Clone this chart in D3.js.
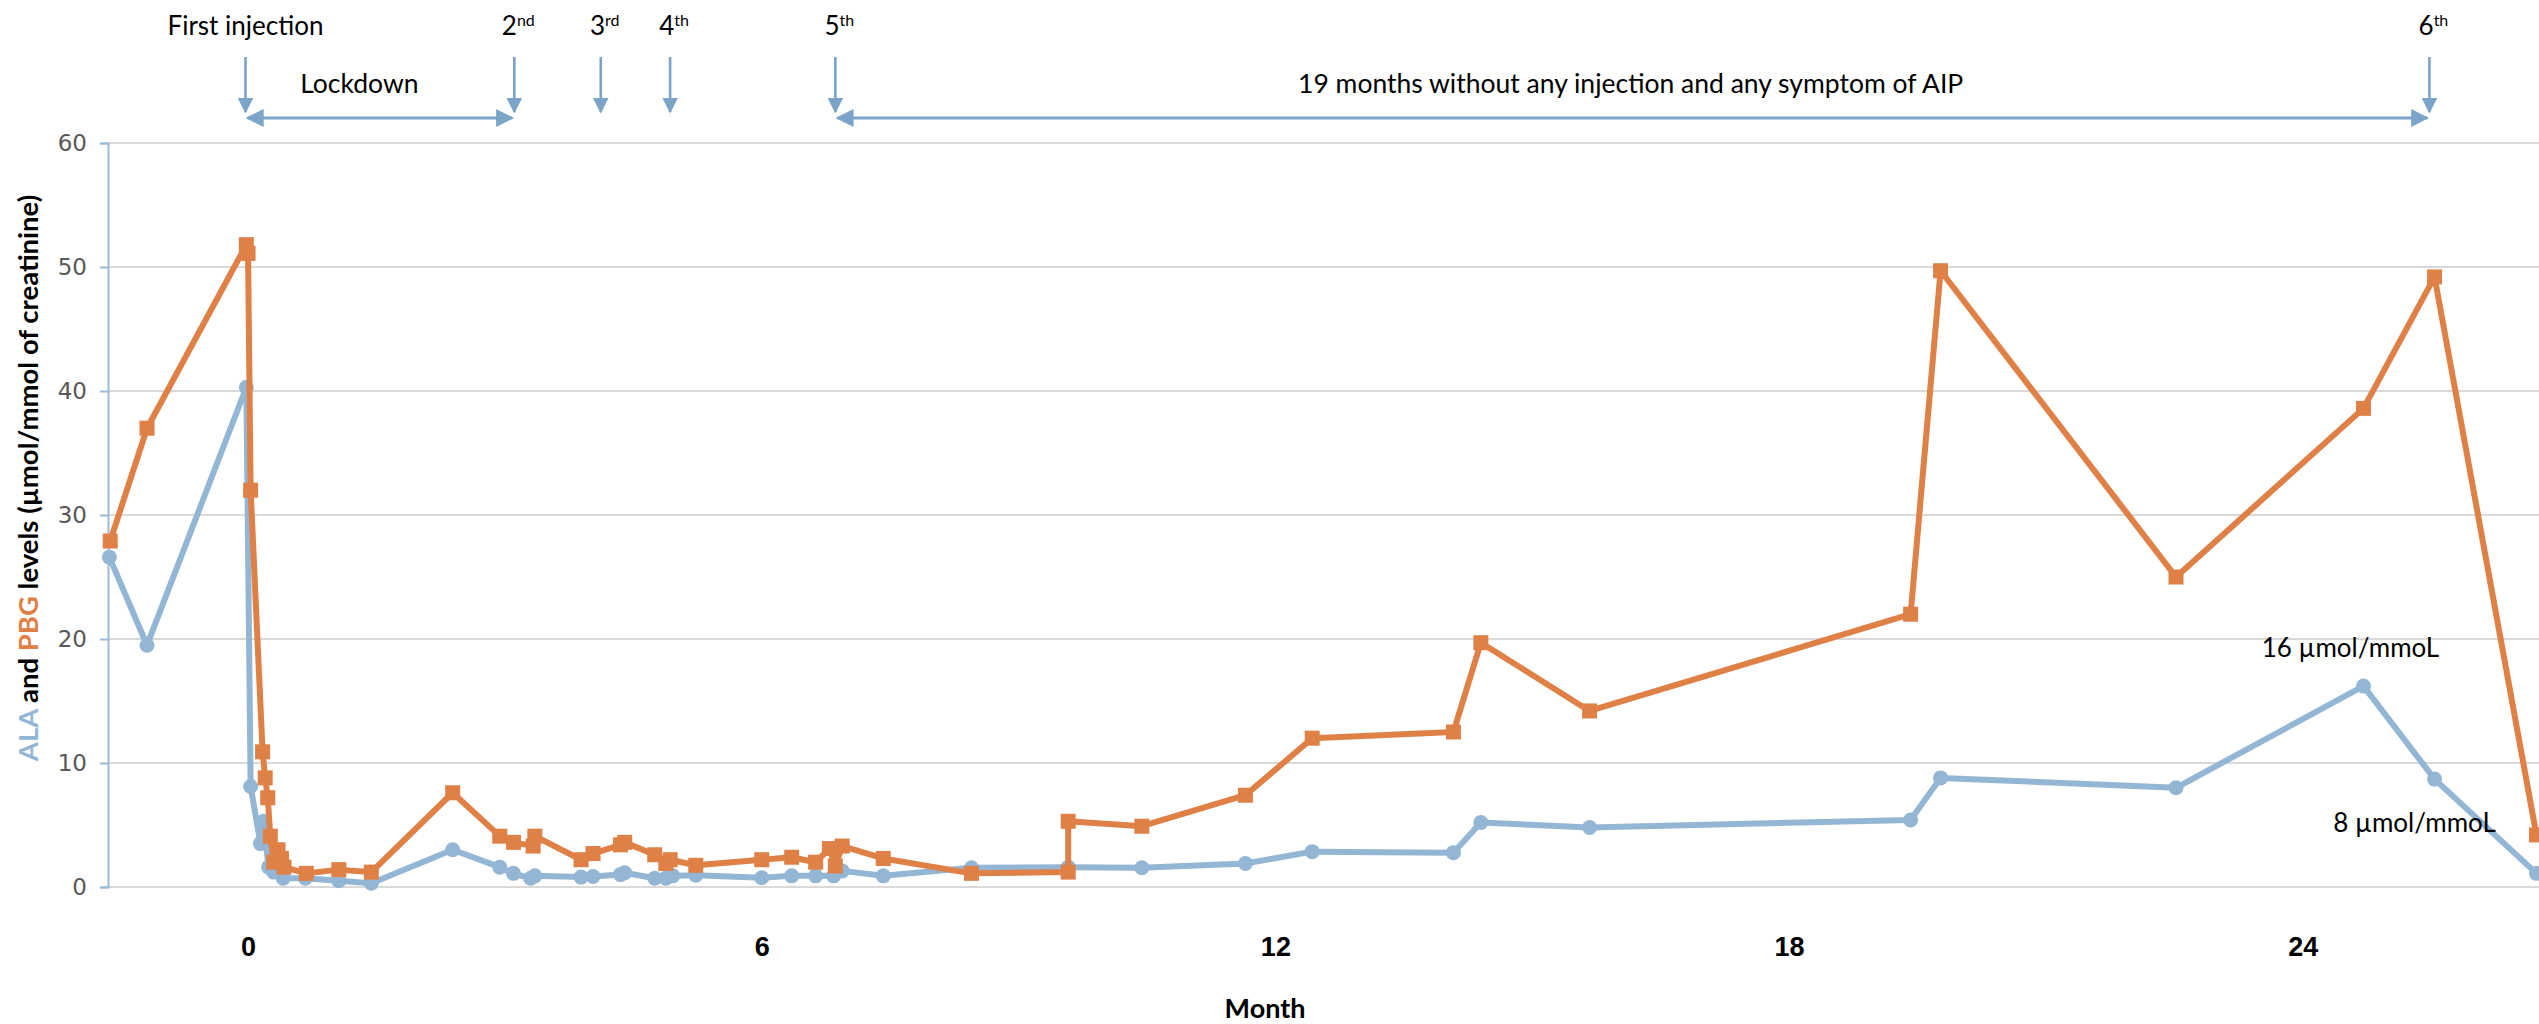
<!DOCTYPE html>
<html>
<head>
<meta charset="utf-8">
<script src="https://cdn.jsdelivr.net/npm/d3@7"></script>
<style>
  body { margin: 0; background: #fff; }
  svg { display: block; font-family: Lato, "Open Sans", sans-serif; }
</style>
</head>
<body>
<div id="chart"></div>
<script>
// ALA (blue circles)
const alaMonths = [-1.62, -1.18, -0.02, 0.03, 0.145, 0.18, 0.24, 0.3, 0.41, 0.67, 1.06, 1.44,
  2.39, 2.94, 3.10, 3.30, 3.35, 3.89, 4.03, 4.35, 4.40, 4.75, 4.88, 4.96, 5.23,
  6.0, 6.35, 6.63, 6.84, 6.94, 7.42, 8.45, 9.58, 10.44, 11.65, 12.43, 14.08, 14.40,
  15.67, 19.42, 19.77, 22.52, 24.71, 25.54, 26.73]
const alaValues = [26.6, 19.5, 40.3, 8.1, 3.5, 5.3, 1.6, 1.2, 0.7, 0.7, 0.5, 0.3,
  3.0, 1.6, 1.1, 0.7, 0.9, 0.8, 0.85, 1.0, 1.15, 0.7, 0.7, 0.9, 0.95,
  0.75, 0.9, 0.9, 0.9, 1.3, 0.9, 1.55, 1.6, 1.55, 1.9, 2.85, 2.77, 5.2,
  4.8, 5.4, 8.8, 8.0, 16.2, 8.7, 1.1]

// PBG (orange squares)
const pbgMonths = [-1.61, -1.18, -0.02, 0.0, 0.03, 0.17, 0.2, 0.23, 0.26, 0.3, 0.35, 0.39, 0.42,
  0.68, 1.06, 1.44, 2.39, 2.94, 3.10, 3.33, 3.35, 3.89, 4.03, 4.35, 4.40, 4.75, 4.88, 4.93,
  5.23, 6.0, 6.35, 6.63, 6.79, 6.86, 6.94, 7.42, 8.45, 9.58, 9.58, 10.44, 11.65, 12.43,
  14.08, 14.40, 15.67, 19.42, 19.77, 22.52, 24.71, 25.54, 26.73]
const pbgValues = [27.9, 37.0, 51.8, 51.1, 32.0, 10.9, 8.8, 7.2, 4.1, 2.0, 3.0, 2.3, 1.6,
  1.1, 1.4, 1.2, 7.6, 4.1, 3.6, 3.3, 4.1, 2.2, 2.7, 3.4, 3.6, 2.6, 1.9, 2.2,
  1.75, 2.2, 2.4, 2.0, 3.1, 1.7, 3.3, 2.3, 1.1, 1.2, 5.3, 4.9, 7.4, 12.0,
  12.5, 19.7, 14.2, 22.0, 49.7, 25.0, 38.6, 49.2, 4.2]

const yTicks = [0, 10, 20, 30, 40, 50, 60]
const xTickMonths = [0, 6, 12, 18, 24]

// injections shown by arrows at the top
const injectionMonths = [-0.03, 3.11, 4.12, 4.93, 6.86, 25.48]
const injectionLabels = [["First injection", ""], ["2", "nd"], ["3", "rd"], ["4", "th"], ["5", "th"], ["6", "th"]]
const periods = [
  { from: 0, to: 1, text: "Lockdown", textMonth: 1.3 },
  { from: 4, to: 5, text: "19 months without any injection and any symptom of AIP", textMonth: 16.15 }
]
const levelNotes = [
  { month: 24.71, value: 16.2, text: "16 µmol/mmoL", dx: -13, dy: -29 },
  { month: 25.54, value: 8.7, text: "8 µmol/mmoL", dx: -20, dy: 53 }
]

const blue = "#94b6d5"
const orange = "#df8046"
const arrowBlue = "#7ca4c9"

const dimensions = {
  width: 2539,
  height: 1024,
  left: 108,
  top: 143,
  bottom: 887
}

const svg = d3.select("#chart").append("svg")
  .attr("width", dimensions.width)
  .attr("height", dimensions.height)

const xScale = d3.scaleLinear()
  .domain([-1.636, 26.76])
  .range([dimensions.left, dimensions.width])

const yScale = d3.scaleLinear()
  .domain([0, 60])
  .range([dimensions.bottom, dimensions.top])

// gridlines
svg.append("g")
  .selectAll("line")
  .data(yTicks)
  .join("line")
    .attr("x1", dimensions.left)
    .attr("x2", dimensions.width)
    .attr("y1", d => yScale(d))
    .attr("y2", d => yScale(d))
    .attr("stroke", "#d9d9d9")
    .attr("stroke-width", 2)

// y axis
const yAxis = svg.append("g")
  .attr("transform", `translate(${dimensions.left},0)`)
  .call(d3.axisLeft(yScale).tickValues(yTicks).tickSize(8).tickPadding(13))
yAxis.select(".domain").attr("stroke", "#9dbbd8").attr("stroke-width", 2)
yAxis.selectAll(".tick line").attr("stroke", "#9dbbd8").attr("stroke-width", 2)
yAxis.selectAll(".tick text")
  .attr("fill", "#595959")
  .style("font-size", "23px")
  .style("font-family", "'DejaVu Sans', sans-serif")

// y axis title
const yTitle = svg.append("text")
  .attr("transform", `translate(38, 478) rotate(-90)`)
  .attr("text-anchor", "middle")
  .style("font-size", "27.5px")
  .style("font-weight", "bold")
yTitle.append("tspan").attr("fill", blue).text("ALA")
yTitle.append("tspan").attr("fill", "#000").text(" and ")
yTitle.append("tspan").attr("fill", orange).text("PBG")
yTitle.append("tspan").attr("fill", "#000").text(" levels (µmol/mmol of creatinine)")

// x axis labels
const xAxis = svg.append("g")
  .attr("transform", `translate(0,${dimensions.bottom})`)
  .call(d3.axisBottom(xScale).tickValues(xTickMonths).tickSize(0).tickPadding(0))
xAxis.select(".domain").remove()
xAxis.selectAll(".tick text")
  .attr("y", 69)
  .attr("dy", 0)
  .attr("fill", "#000")
  .style("font-size", "27px")
  .style("font-weight", "bold")

svg.append("text")
  .attr("x", 1265)
  .attr("y", 1018)
  .attr("text-anchor", "middle")
  .style("font-size", "27px")
  .style("font-weight", "bold")
  .text("Month")

// series
const alaData = alaMonths.map((m, i) => ({ m, v: alaValues[i] }))
const pbgData = pbgMonths.map((m, i) => ({ m, v: pbgValues[i] }))

const lineGenerator = d3.line()
  .x(d => xScale(d.m))
  .y(d => yScale(d.v))

svg.append("path")
  .attr("d", lineGenerator(alaData))
  .attr("fill", "none")
  .attr("stroke", blue)
  .attr("stroke-width", 6)
  .attr("stroke-linejoin", "round")

svg.append("g")
  .selectAll("circle")
  .data(alaData)
  .join("circle")
    .attr("cx", d => xScale(d.m))
    .attr("cy", d => yScale(d.v))
    .attr("r", 7.5)
    .attr("fill", blue)

svg.append("path")
  .attr("d", lineGenerator(pbgData))
  .attr("fill", "none")
  .attr("stroke", orange)
  .attr("stroke-width", 6)
  .attr("stroke-linejoin", "round")

svg.append("g")
  .selectAll("rect")
  .data(pbgData)
  .join("rect")
    .attr("x", d => xScale(d.m) - 7.5)
    .attr("y", d => yScale(d.v) - 7.5)
    .attr("width", 15)
    .attr("height", 15)
    .attr("fill", orange)

// level notes
svg.append("g")
  .selectAll("text")
  .data(levelNotes)
  .join("text")
    .attr("x", d => xScale(d.month) + d.dx)
    .attr("y", d => yScale(d.value) + d.dy)
    .attr("text-anchor", "middle")
    .attr("fill", "#000")
    .style("font-size", "26px")
    .text(d => d.text)

// arrowheads
const defs = svg.append("defs")
defs.append("marker")
  .attr("id", "head")
  .attr("viewBox", "0 0 10 10")
  .attr("refX", 9)
  .attr("refY", 5)
  .attr("markerWidth", 6)
  .attr("markerHeight", 6)
  .attr("markerUnits", "strokeWidth")
  .attr("orient", "auto-start-reverse")
  .append("path")
    .attr("d", "M0,0 L10,5 L0,10 Z")
    .attr("fill", arrowBlue)

// injection arrows
const arrows = svg.append("g")
arrows.selectAll("line")
  .data(injectionMonths)
  .join("line")
    .attr("x1", d => xScale(d))
    .attr("x2", d => xScale(d))
    .attr("y1", 57)
    .attr("y2", 112)
    .attr("stroke", arrowBlue)
    .attr("stroke-width", 2.6)
    .attr("marker-end", "url(#head)")

const injLabels = svg.append("g")
  .selectAll("text")
  .data(injectionLabels)
  .join("text")
    .attr("x", (d, i) => xScale(injectionMonths[i]) + (d[1] ? 4 : 0))
    .attr("y", 35)
    .attr("text-anchor", "middle")
    .attr("fill", "#000")
    .style("font-size", "26px")
injLabels.append("tspan").text(d => d[0])
injLabels.append("tspan")
  .attr("dy", -9)
  .style("font-size", "16px")
  .text(d => d[1])

// period arrows
svg.append("g")
  .selectAll("line")
  .data(periods)
  .join("line")
    .attr("x1", d => xScale(injectionMonths[d.from]) + 2)
    .attr("x2", d => xScale(injectionMonths[d.to]) - 2)
    .attr("y1", 118)
    .attr("y2", 118)
    .attr("stroke", arrowBlue)
    .attr("stroke-width", 3)
    .attr("marker-start", "url(#head)")
    .attr("marker-end", "url(#head)")

svg.append("g")
  .selectAll("text")
  .data(periods)
  .join("text")
    .attr("x", d => xScale(d.textMonth))
    .attr("y", 93)
    .attr("text-anchor", "middle")
    .attr("fill", "#000")
    .style("font-size", "26.5px")
    .text(d => d.text)
</script>
</body>
</html>
